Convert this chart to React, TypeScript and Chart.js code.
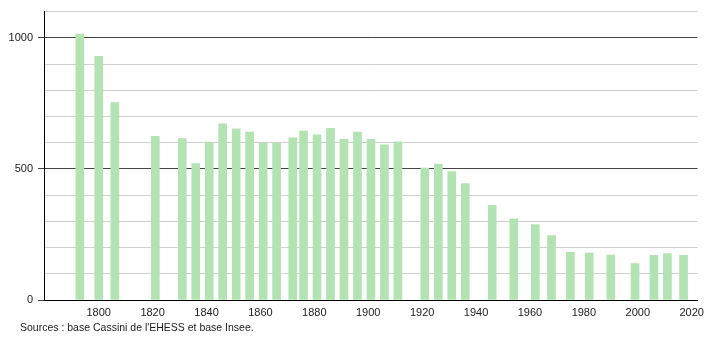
import React, { useEffect, useRef } from "react";
import { Chart, registerables } from "chart.js";

Chart.register(...registerables);

const years = [
  1793, 1800, 1806, 1821, 1831, 1836, 1841, 1846, 1851, 1856, 1861, 1866, 1872,
  1876, 1881, 1886, 1891, 1896, 1901, 1906, 1911, 1921, 1926, 1931, 1936, 1946,
  1954, 1962, 1968, 1975, 1982, 1990, 1999, 2006, 2011, 2017,
];
const population = [
  1014, 929, 753, 624, 616, 520, 600, 672, 653, 640, 598, 598, 619, 644, 630,
  655, 613, 640, 613, 592, 603, 503, 518, 490, 444, 361, 310, 288, 246, 182,
  179, 171, 139, 170, 177, 170,
];
const xTickYears = [1800, 1820, 1840, 1860, 1880, 1900, 1920, 1940, 1960, 1980, 2000, 2020];
const yTickValues = [0, 100, 200, 300, 400, 500, 600, 700, 800, 900, 1000, 1100];
const yLabelValues = [0, 500, 1000];
const sourceText = "Sources : base Cassini de l'EHESS et base Insee.";

const FONT = "'Liberation Sans', Arial, sans-serif";

export default function App() {
  const ref = useRef<HTMLCanvasElement | null>(null);

  useEffect(() => {
    if (!ref.current) return;
    const sourcePlugin = {
      id: "sourceText",
      afterDraw(chart: any) {
        const ctx = chart.ctx;
        ctx.save();
        ctx.font = `10.5px ${FONT}`;
        ctx.fillStyle = "#222";
        ctx.textBaseline = "middle";
        ctx.textAlign = "left";
        ctx.fillText(sourceText, 20, 328);
        ctx.restore();
      },
    };
    const chart = new Chart(ref.current, {
      type: "bar",
      data: {
        datasets: [
          {
            data: years.map((y, i) => ({ x: y, y: population[i] })),
            backgroundColor: "#b3e3b3",
            borderWidth: 0,
            barThickness: 8,
          },
        ],
      },
      options: {
        responsive: false,
        animation: false,
        layout: { padding: { left: 0, right: 10, top: 10, bottom: 18 } },
        plugins: {
          legend: { display: false },
          tooltip: { enabled: false },
        },
        scales: {
          x: {
            type: "linear",
            min: 1779.7,
            max: 2022.2,
            offset: false,
            grid: { display: false, drawTicks: false },
            border: { display: true, color: "#000", width: 1 },
            afterBuildTicks(scale: any) {
              scale.ticks = xTickYears.map((v) => ({ value: v }));
            },
            afterFit(scale: any) {
              scale.height = 22;
            },
            ticks: {
              padding: 6,
              autoSkip: false,
              maxRotation: 0,
              color: "#222",
              font: { family: FONT, size: 11 },
              callback: (v: any) => String(v),
            },
          },
          y: {
            type: "linear",
            min: 0,
            max: 1100,
            afterBuildTicks(scale: any) {
              scale.ticks = yTickValues.map((v) => ({ value: v }));
            },
            afterFit(scale: any) {
              scale.width = 44;
            },
            border: { display: true, color: "#000", width: 1 },
            grid: {
              color: (c: any) =>
                c.tick && yLabelValues.includes(c.tick.value) ? "#444" : "#d0d0d0",
              tickColor: (c: any) =>
                c.tick && yLabelValues.includes(c.tick.value) ? "#444" : "rgba(0,0,0,0)",
              tickLength: 6,
              lineWidth: 1,
            },
            ticks: {
              padding: 5,
              autoSkip: false,
              color: "#222",
              font: { family: FONT, size: 11 },
              callback: (v: any) => (yLabelValues.includes(Number(v)) ? String(v) : ""),
            },
          },
        },
      },
      plugins: [sourcePlugin],
    });
    return () => chart.destroy();
  }, []);

  return (
    <div style={{ position: "absolute", left: 0, top: 0, width: 710, height: 340, background: "#fff" }}>
      <canvas ref={ref} width={710} height={340} />
    </div>
  );
}
